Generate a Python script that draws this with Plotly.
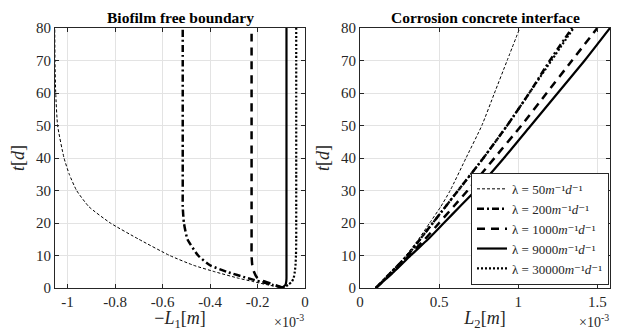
from plotly import graph_objects as go

# time axis [d]
t_left = [0, 1, 2, 3, 5, 7, 10, 15, 20, 25, 30, 35, 40, 50, 60, 70, 80]
t_right = [0, 5, 10, 15, 20, 25, 30, 40, 50, 60, 70, 80]

# -L1 in units of 1e-3 m (biofilm free boundary)
L1_50 = [-0.09, -0.16, -0.22, -0.28, -0.38, -0.47, -0.57, -0.70, -0.82, -0.91, -0.962, -0.993, -1.015, -1.042, -1.05, -1.053, -1.054]
L1_200 = [-0.09, -0.14, -0.19, -0.24, -0.33, -0.40, -0.45, -0.495, -0.51, -0.515, -0.515, -0.515, -0.515, -0.515, -0.515, -0.515, -0.515]
L1_1000 = [-0.09, -0.13, -0.17, -0.20, -0.215, -0.222, -0.225, -0.225, -0.225, -0.225, -0.225, -0.225, -0.225, -0.225, -0.225, -0.225, -0.225]
L1_9000 = [-0.098, -0.082, -0.079, -0.078, -0.078, -0.078, -0.078, -0.078, -0.078, -0.078, -0.078, -0.078, -0.078, -0.078, -0.078, -0.078, -0.078]
L1_30000 = [-0.095, -0.07, -0.055, -0.048, -0.043, -0.04, -0.038, -0.037, -0.037, -0.037, -0.037, -0.037, -0.037, -0.037, -0.037, -0.037, -0.037]

# L2 in units of 1e-3 m (corrosion concrete interface)
L2_50 = [0.10, 0.20, 0.29, 0.37, 0.44, 0.51, 0.57, 0.67, 0.77, 0.85, 0.93, 1.01]
L2_200 = [0.10, 0.20, 0.30, 0.38, 0.46, 0.54, 0.62, 0.78, 0.93, 1.07, 1.20, 1.34]
L2_1000 = [0.10, 0.21, 0.31, 0.41, 0.50, 0.59, 0.68, 0.85, 1.02, 1.18, 1.34, 1.50]
L2_9000 = [0.10, 0.215, 0.32, 0.43, 0.53, 0.63, 0.73, 0.91, 1.08, 1.25, 1.42, 1.58]
L2_30000 = [0.10, 0.20, 0.30, 0.38, 0.46, 0.54, 0.62, 0.78, 0.93, 1.07, 1.21, 1.35]

lambdas = ["50", "200", "1000", "9000", "30000"]
styles = [
    dict(width=1, dash="3px,2px"),
    dict(width=2.5, dash="7px,3px,2px,3px"),
    dict(width=2.5, dash="8px,6px"),
    dict(width=2.2, dash="solid"),
    dict(width=2.2, dash="2px,2px"),
]

left_x = [L1_50, L1_200, L1_1000, L1_9000, L1_30000]
right_x = [L2_50, L2_200, L2_1000, L2_9000, L2_30000]

# page body has an 8px margin, so the figure is drawn 8px smaller and shifted
W, H = 619, 323
OFF = 8


def px(x):
    return (x - OFF) / W


fig = go.Figure()
for lam, st, xl, xr in zip(lambdas, styles, left_x, right_x):
    line = dict(color="black", shape="spline", smoothing=0.5, **st)
    fig.add_trace(go.Scatter(x=xl, y=t_left, mode="lines", line=line,
                             showlegend=False, xaxis="x", yaxis="y"))
    fig.add_trace(go.Scatter(x=xr, y=t_right, mode="lines", line=line,
                             name="λ = " + lam + "<i>m</i>⁻¹<i>d</i>⁻¹",
                             xaxis="x2", yaxis="y2"))

serif = "'Liberation Serif', 'DejaVu Serif', serif"
axis_common = dict(showline=True, linecolor="#262626", linewidth=1, mirror="ticks",
                   ticks="inside", ticklen=4, tickcolor="#262626",
                   showgrid=True, gridcolor="#e3e3e3", gridwidth=1, zeroline=False,
                   tickfont=dict(family=serif, size=15, color="#262626"))

fig.update_layout(
    width=W, height=H,
    margin=dict(l=0, r=0, t=20, b=43, autoexpand=False),
    paper_bgcolor="white", plot_bgcolor="white",
    font=dict(family=serif, size=15, color="#262626"),
    xaxis=dict(domain=[px(55), px(305)], range=[-1.053, 0],
               tickvals=[-1, -0.8, -0.6, -0.4, -0.2, 0],
               ticktext=["-1", "-0.8", "-0.6", "-0.4", "-0.2", "0"],
               title=dict(text="−<i>L</i><sub>1</sub>[<i>m</i>]", standoff=3), **axis_common),
    yaxis=dict(domain=[0, 1], range=[0, 80], dtick=10,
               title=dict(text="<i>t</i>[<i>d</i>]", standoff=6), anchor="x", **axis_common),
    xaxis2=dict(domain=[px(360), px(610)], range=[0, 1.58],
                tickvals=[0, 0.5, 1, 1.5], ticktext=["0", "0.5", "1", "1.5"],
                title=dict(text="<i>L</i><sub>2</sub>[<i>m</i>]", standoff=3), anchor="y2",
                **axis_common),
    yaxis2=dict(domain=[0, 1], range=[0, 80], dtick=10, anchor="x2",
                title=dict(text="<i>t</i>[<i>d</i>]", standoff=6), **axis_common),
    legend=dict(x=px(609), xanchor="right", y=0.012, yanchor="bottom",
                bgcolor="white", bordercolor="#262626", borderwidth=1,
                font=dict(family=serif, size=13, color="#262626"),
                tracegroupgap=0, itemwidth=30),
    annotations=[
        dict(text="<b>Biofilm free boundary</b>", x=px(180), y=1.0, xref="paper", yref="paper",
             xanchor="center", yanchor="bottom", showarrow=False, yshift=0,
             font=dict(family=serif, size=15.5, color="black")),
        dict(text="<b>Corrosion concrete interface</b>", x=px(485), y=1.0, xref="paper", yref="paper",
             xanchor="center", yanchor="bottom", showarrow=False, yshift=0,
             font=dict(family=serif, size=15.5, color="black")),
        dict(text="×10<sup>-3</sup>", x=px(306), y=-0.085, xref="paper", yref="paper",
             xanchor="right", yanchor="top", showarrow=False,
             font=dict(family=serif, size=14, color="#262626")),
        dict(text="×10<sup>-3</sup>", x=px(611), y=-0.085, xref="paper", yref="paper",
             xanchor="right", yanchor="top", showarrow=False,
             font=dict(family=serif, size=14, color="#262626")),
    ],
)

fig.write_html("out.html")
